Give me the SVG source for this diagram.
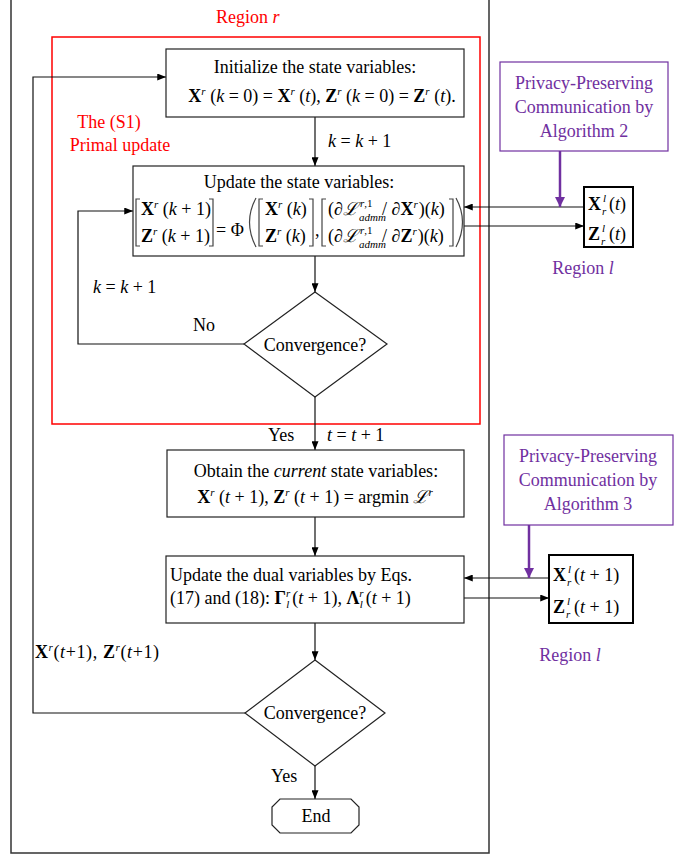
<svg xmlns="http://www.w3.org/2000/svg" width="689" height="855" viewBox="0 0 689 855">
<defs>
<marker id="ah" viewBox="0 0 10 8" refX="10" refY="4" markerWidth="9" markerHeight="7" markerUnits="userSpaceOnUse" orient="auto"><path d="M0,0 L10,4 L0,8 Z" fill="#000"/></marker>
<marker id="ahp" viewBox="0 0 10 10" refX="10" refY="5" markerWidth="11" markerHeight="10" markerUnits="userSpaceOnUse" orient="auto"><path d="M0,0 L10,5 L0,10 Z" fill="#7030A0"/></marker>
<style>
.t{font-family:"Liberation Serif","DejaVu Serif",serif;font-size:18px;fill:#000}
.red{fill:#FF0000}
.pur{fill:#7030A0}
.b{font-weight:bold}
.i{font-style:italic}
.sup{font-size:11px;font-style:italic}
.box{fill:#fff;stroke:#222;stroke-width:1.2}
.xbox{fill:#fff;stroke:#000;stroke-width:2}
.pbox{fill:#fff;stroke:#7030A0;stroke-width:1.2}
.ln{fill:none;stroke:#111;stroke-width:1.2}
.arr{fill:none;stroke:#111;stroke-width:1.2;marker-end:url(#ah)}
.parr{fill:none;stroke:#7030A0;stroke-width:2.5;marker-end:url(#ahp)}
.br{fill:none;stroke:#444;stroke-width:1.2}
</style>
</defs>

<g id="frame">
<path d="M11,0 V853 H489 V0" fill="none" stroke="#333" stroke-width="1.5"/>
<text class="t red" x="216" y="23" font-size="19">Region <tspan class="i">r</tspan></text>
</g>

<g id="primal-region">
<rect x="52" y="37" width="428" height="387" fill="none" stroke="#FF0000" stroke-width="1.5"/>
<text class="t red" x="109" y="128" text-anchor="middle">The (S1)</text>
<text class="t red" x="120" y="151" text-anchor="middle">Primal update</text>
</g>

<g id="connectors">
<path class="arr" d="M315,117 V166"/>
<path class="arr" d="M315,256 V292"/>
<path class="arr" d="M244,344 H78 V211 H133"/>
<path class="arr" d="M315,397 V450"/>
<path class="arr" d="M315,517 V556"/>
<path class="arr" d="M315,623 V660"/>
<path class="arr" d="M245,713 H33 V77 H166"/>
<path class="arr" d="M315,766 V799"/>
<path class="arr" d="M584,207 H464"/>
<path class="arr" d="M464,226 H584"/>
<path class="arr" d="M549,578 H464"/>
<path class="arr" d="M464,598 H549"/>
<path class="parr" d="M560,151 V207"/>
<path class="parr" d="M529,525 V578"/>
<text class="t i" x="328" y="147">k<tspan font-style="normal"> = </tspan>k<tspan font-style="normal"> + 1</tspan></text>
<text class="t i" x="93" y="293">k<tspan font-style="normal"> = </tspan>k<tspan font-style="normal"> + 1</tspan></text>
<text class="t" x="193" y="331">No</text>
<text class="t" x="268" y="441">Yes</text>
<text class="t i" x="327" y="441">t<tspan font-style="normal"> = </tspan>t<tspan font-style="normal"> + 1</tspan></text>
<text class="t" x="35" y="658" textLength="124" lengthAdjust="spacing"><tspan class="b">X</tspan><tspan class="sup" dy="-7">r</tspan><tspan dy="7">(</tspan><tspan class="i">t</tspan>+1), <tspan class="b">Z</tspan><tspan class="sup" dy="-7">r</tspan><tspan dy="7">(</tspan><tspan class="i">t</tspan>+1)</text>
<text class="t" x="271" y="782">Yes</text>
</g>

<g id="init">
<rect class="box" x="166" y="49" width="298" height="68"/>
<text class="t" x="315" y="73" text-anchor="middle">Initialize the state variables:</text>
<text class="t" x="322" y="102" text-anchor="middle"><tspan class="b">X</tspan><tspan class="sup" dy="-7">r</tspan><tspan dy="7"> (</tspan><tspan class="i">k</tspan> = 0) = <tspan class="b">X</tspan><tspan class="sup" dy="-7">r</tspan><tspan dy="7"> (</tspan><tspan class="i">t</tspan>), <tspan class="b">Z</tspan><tspan class="sup" dy="-7">r</tspan><tspan dy="7"> (</tspan><tspan class="i">k</tspan> = 0) = <tspan class="b">Z</tspan><tspan class="sup" dy="-7">r</tspan><tspan dy="7"> (</tspan><tspan class="i">t</tspan>).</text>
</g>

<g id="update-state">
<rect class="box" x="133" y="166" width="331" height="90"/>
<text class="t" x="299" y="188" text-anchor="middle">Update the state variables:</text>
<path class="br" d="M140,199 H136 V246 H140"/>
<path class="br" d="M209,199 H213 V246 H209"/>
<text class="t" x="141" y="215" font-size="17"><tspan class="b">X</tspan><tspan class="sup" dy="-7">r</tspan><tspan dy="7"> (</tspan><tspan class="i">k</tspan> + 1)</text>
<text class="t" x="141" y="242" font-size="17"><tspan class="b">Z</tspan><tspan class="sup" dy="-7">r</tspan><tspan dy="7"> (</tspan><tspan class="i">k</tspan> + 1)</text>
<text class="t" x="216" y="236" font-size="17">= Φ</text>
<path class="br" d="M256,198 Q243,222 256,247"/>
<path class="br" d="M263,199 H259 V246 H263"/>
<path class="br" d="M309,199 H313 V246 H309"/>
<text class="t" x="265" y="215" font-size="17"><tspan class="b">X</tspan><tspan class="sup" dy="-7">r</tspan><tspan dy="7"> (</tspan><tspan class="i">k</tspan>)</text>
<text class="t" x="265" y="242" font-size="17"><tspan class="b">Z</tspan><tspan class="sup" dy="-7">r</tspan><tspan dy="7"> (</tspan><tspan class="i">k</tspan>)</text>
<text class="t" x="315" y="236" font-size="17">,</text>
<path class="br" d="M326,199 H322 V246 H326"/>
<path class="br" d="M449,199 H453 V246 H449"/>
<text class="t" x="328" y="215" font-size="17">(∂<tspan class="i">ℒ</tspan></text>
<text class="t sup" x="360" y="207" font-size="9">r<tspan font-style="normal">,1</tspan></text>
<text class="t sup" x="359" y="221" font-size="9">admm</text>
<text class="t" x="382" y="215" font-size="17">/ ∂<tspan class="b">X</tspan><tspan class="sup" dy="-7">r</tspan><tspan dx="1" dy="7">)(</tspan><tspan class="i">k</tspan>)</text>
<text class="t" x="328" y="242" font-size="17">(∂<tspan class="i">ℒ</tspan></text>
<text class="t sup" x="360" y="234" font-size="9">r<tspan font-style="normal">,1</tspan></text>
<text class="t sup" x="359" y="248" font-size="9">admm</text>
<text class="t" x="382" y="242" font-size="17">/ ∂<tspan class="b">Z</tspan><tspan class="sup" dy="-7">r</tspan><tspan dx="1" dy="7">)(</tspan><tspan class="i">k</tspan>)</text>
<path class="br" d="M456,198 Q469,222 456,247"/>
</g>

<g id="convergence-1">
<polygon class="box" points="315,292 387,344 315,397 244,344"/>
<text class="t" x="315" y="351" text-anchor="middle">Convergence?</text>
</g>

<g id="obtain">
<rect class="box" x="167" y="450" width="297" height="67"/>
<text class="t" x="316" y="477" text-anchor="middle">Obtain the <tspan class="i">current</tspan> state variables:</text>
<text class="t" x="315" y="503" text-anchor="middle"><tspan class="b">X</tspan><tspan class="sup" dy="-7">r</tspan><tspan dy="7"> (</tspan><tspan class="i">t</tspan> + 1), <tspan class="b">Z</tspan><tspan class="sup" dy="-7">r</tspan><tspan dy="7"> (</tspan><tspan class="i">t</tspan> + 1) = argmin <tspan class="i">ℒ</tspan><tspan class="sup" dy="-7">r</tspan></text>
</g>

<g id="update-dual">
<rect class="box" x="166" y="556" width="298" height="67"/>
<text class="t" x="170" y="581">Update the dual variables by Eqs.</text>
<text class="t" x="170" y="604">(17) and (18): <tspan class="b">Γ</tspan><tspan class="sup" dy="-7">r</tspan><tspan class="sup" dx="-4" dy="11">l</tspan><tspan dx="3" dy="-4">(</tspan><tspan class="i">t</tspan> + 1), <tspan class="b">Λ</tspan><tspan class="sup" dy="-7">r</tspan><tspan class="sup" dx="-4" dy="11">l</tspan><tspan dx="3" dy="-4">(</tspan><tspan class="i">t</tspan> + 1)</text>
</g>

<g id="convergence-2">
<polygon class="box" points="315,660 385,713 315,766 245,713"/>
<text class="t" x="315" y="719" text-anchor="middle">Convergence?</text>
</g>

<g id="end">
<path class="box" d="M280,799 H351 L359,807 V825 L351,833 H280 L272,825 V807 Z"/>
<text class="t" x="316" y="822" text-anchor="middle">End</text>
</g>

<g id="alg2">
<rect class="pbox" x="500" y="62" width="168" height="89"/>
<text class="t pur" x="584" y="89" text-anchor="middle">Privacy-Preserving</text>
<text class="t pur" x="584" y="113" text-anchor="middle">Communication by</text>
<text class="t pur" x="584" y="137" text-anchor="middle">Algorithm 2</text>
</g>

<g id="region-l-1">
<rect class="xbox" x="584" y="187" width="49" height="60"/>
<text class="t" x="588" y="210" font-size="19"><tspan class="b">X</tspan><tspan class="sup" x="603" y="202">l</tspan><tspan class="sup" x="602" y="215">r</tspan><tspan x="609" y="210">(</tspan><tspan class="i">t</tspan>)</text>
<text class="t" x="588" y="240" font-size="19"><tspan class="b">Z</tspan><tspan class="sup" x="602" y="232">l</tspan><tspan class="sup" x="601" y="245">r</tspan><tspan x="609" y="240">(</tspan><tspan class="i">t</tspan>)</text>
<text class="t pur" x="583" y="274" text-anchor="middle" font-size="19">Region <tspan class="i">l</tspan></text>
</g>

<g id="alg3">
<rect class="pbox" x="504" y="435" width="169" height="90"/>
<text class="t pur" x="588" y="462" text-anchor="middle">Privacy-Preserving</text>
<text class="t pur" x="588" y="486" text-anchor="middle">Communication by</text>
<text class="t pur" x="588" y="510" text-anchor="middle">Algorithm 3</text>
</g>

<g id="region-l-2">
<rect class="xbox" x="549" y="555" width="84" height="68"/>
<text class="t" x="553" y="581" font-size="19"><tspan class="b">X</tspan><tspan class="sup" x="568" y="573">l</tspan><tspan class="sup" x="567" y="586">r</tspan><tspan x="574" y="581">(</tspan><tspan class="i">t</tspan> + 1)</text>
<text class="t" x="553" y="613" font-size="19"><tspan class="b">Z</tspan><tspan class="sup" x="567" y="605">l</tspan><tspan class="sup" x="566" y="618">r</tspan><tspan x="574" y="613">(</tspan><tspan class="i">t</tspan> + 1)</text>
<text class="t pur" x="570" y="661" text-anchor="middle" font-size="19">Region <tspan class="i">l</tspan></text>
</g>
</svg>
